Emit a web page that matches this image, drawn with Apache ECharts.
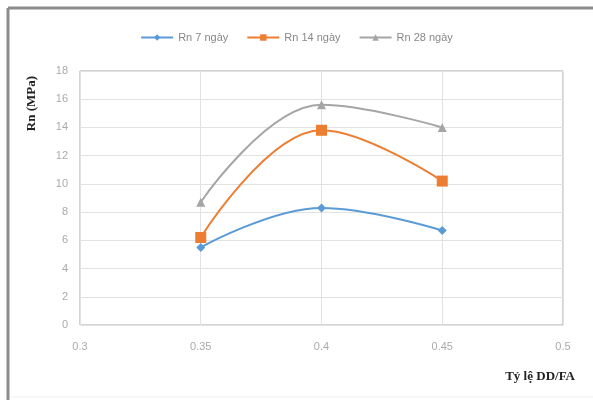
<!DOCTYPE html>
<html><head><meta charset="utf-8">
<script src="https://cdn.jsdelivr.net/npm/echarts@6/dist/echarts.min.js"></script>
<style>html,body{margin:0;padding:0;background:#fff}#c{width:593px;height:400px}</style>
</head><body><div id="c"></div>
<script>
const xValues = [0.35, 0.4, 0.45];
const rn7 = [5.5, 8.3, 6.7];
const rn14 = [6.2, 13.8, 10.2];
const rn28 = [8.7, 15.6, 14.0];
const seriesNames = ['Rn 7 ngày', 'Rn 14 ngày', 'Rn 28 ngày'];
const yTitle = 'Rn (MPa)';
const xTitle = 'Tỷ lệ DD/FA';

const pairs = arr => xValues.map((x, i) => [x, arr[i]]);
const chart = echarts.init(document.getElementById('c'));
const common = { type: 'line', smooth: 0.4, lineStyle: { width: 2 } };
chart.setOption({
  animation: false,
  textStyle: { fontFamily: 'Liberation Sans, Arial, sans-serif' },
  legend: {
    top: 27, left: 'center', itemWidth: 32, itemHeight: 8, itemGap: 18,
    textStyle: { color: '#888', fontSize: 11 },
    data: seriesNames
  },
  grid: { left: 80, top: 71, right: 30, bottom: 75, show: true, borderColor: '#a6a6a6', borderWidth: 1 },
  xAxis: {
    type: 'value', min: 0.3, max: 0.5, interval: 0.05,
    axisLine: { show: false }, axisTick: { show: false },
    axisLabel: { color: '#aaa', fontSize: 11, margin: 16, formatter: v => String(Math.round(v * 100) / 100) },
    splitLine: { lineStyle: { color: '#e2e2e2' } }
  },
  yAxis: {
    type: 'value', min: 0, max: 18, interval: 2,
    axisLine: { show: false }, axisTick: { show: false },
    axisLabel: { color: '#aaa', fontSize: 11, margin: 12 },
    splitLine: { lineStyle: { color: '#e2e2e2' } }
  },
  graphic: [
    { type: 'text', left: 25, top: 76, rotation: Math.PI / 2, style: { text: yTitle, font: 'bold 13px "Liberation Serif", serif', fill: '#222' } },
    { type: 'text', right: 18, top: 370, style: { text: xTitle, font: 'bold 13px "Liberation Serif", serif', fill: '#222' } },
    { type: 'line', shape: { x1: 8, y1: 8, x2: 593, y2: 8 }, style: { stroke: '#8c8c8c', lineWidth: 3 } },
    { type: 'line', shape: { x1: 8, y1: 8, x2: 8, y2: 400 }, style: { stroke: '#8c8c8c', lineWidth: 3 } },
    { type: 'line', shape: { x1: 12, y1: 397, x2: 593, y2: 397 }, style: { stroke: '#eeeeee', lineWidth: 1 } }
  ],
  series: [
    Object.assign({}, common, { name: seriesNames[0], data: pairs(rn7), symbol: 'diamond', symbolSize: 9, itemStyle: { color: '#5b9bd5' }, lineStyle: { width: 2, color: '#5b9bd5' } }),
    Object.assign({}, common, { name: seriesNames[1], data: pairs(rn14), symbol: 'rect', symbolSize: 11, itemStyle: { color: '#ed7d31' }, lineStyle: { width: 2, color: '#ed7d31' } }),
    Object.assign({}, common, { name: seriesNames[2], data: pairs(rn28), symbol: 'triangle', symbolSize: 9, itemStyle: { color: '#a5a5a5' }, lineStyle: { width: 2, color: '#a5a5a5' } })
  ]
});
</script></body></html>
